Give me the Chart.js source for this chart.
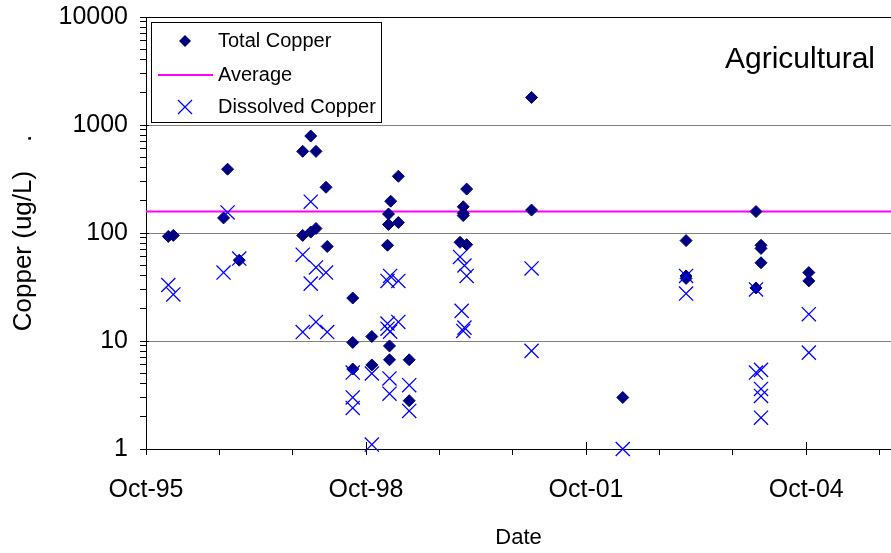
<!doctype html>
<html lang="en">
<head>
<meta charset="UTF-8" />
<title>Copper - Agricultural</title>
<style>
  body { margin: 0; background: #fff; }
  canvas { display: block; }
</style>
</head>
<body>
<canvas id="chart" width="891" height="553"></canvas>
<script src="https://cdn.jsdelivr.net/npm/chart.js@4/dist/chart.umd.min.js"></script>
<script>
// sample dates + copper results (ug/L)
const totalDates = [
  '1996-01-20', '1996-02-14', '1996-10-21', '1996-11-10', '1997-01-08',
  '1997-11-20', '1997-12-30', '1998-01-25', '1998-03-16',
  '1997-11-20', '1997-12-30', '1998-01-25', '1998-03-22',
  '1998-07-27', '1998-07-27', '1998-07-27', '1998-10-30', '1998-10-30',
  '1999-02-01', '1999-01-21', '1999-01-21', '1999-03-11', '1999-03-11',
  '1999-01-16', '1999-01-26', '1999-01-26', '1999-05-04', '1999-05-04',
  '2000-02-14', '2000-01-28', '2000-01-28', '2000-01-28', '2000-01-12', '2000-02-14',
  '2001-01-03', '2001-01-03', '2002-04-02',
  '2003-02-11', '2003-02-11', '2003-02-11',
  '2004-01-25', '2004-02-19', '2004-02-19', '2004-02-19', '2004-01-25',
  '2004-10-14', '2004-10-14'
];
const totalValues = [
  93, 95, 138, 390, 56,
  570, 790, 570, 265,
  95, 102, 110, 75,
  25, 9.7, 5.5, 11, 6.0,
  197, 150, 120, 125, 335,
  77, 9.0, 6.7, 6.7, 2.8,
  255, 175, 152, 145, 82, 78,
  1800, 163, 3.0,
  85, 40, 38,
  158, 77, 72, 53, 31,
  43, 36
];

const dissolvedDates = [
  '1996-01-20', '1996-02-14', '1996-10-21', '1996-11-10', '1997-01-08',
  '1997-12-30', '1997-11-20', '1998-01-25', '1998-03-16', '1997-12-30',
  '1997-11-20', '1998-01-25', '1998-03-22',
  '1998-07-27', '1998-07-27', '1998-07-27', '1998-10-30', '1998-10-30',
  '1999-01-29', '1999-01-16', '1999-03-11', '1999-01-16', '1999-03-11',
  '1999-01-29', '1999-01-16', '1999-01-26', '1999-01-26', '1999-05-04', '1999-05-04',
  '2000-01-12', '2000-02-03', '2000-02-14', '2000-01-20', '2000-02-03', '2000-01-28',
  '2001-01-03', '2001-01-03', '2002-04-02',
  '2003-02-11', '2003-02-11',
  '2004-01-25', '2004-01-25', '2004-02-19', '2004-02-19', '2004-02-19', '2004-02-19',
  '2004-10-14', '2004-10-14'
];
const dissolvedValues = [
  33, 27, 43, 155, 58,
  195, 63, 48, 43, 34,
  12.1, 15, 12.1,
  5.1, 3.0, 2.4, 5.0, 1.1,
  40, 36, 36, 14.5, 15,
  12.2, 13, 4.5, 3.25, 3.9, 2.25,
  60, 50, 40, 19, 13.3, 12.4,
  47, 8.1, 1.0,
  40, 27.5,
  30, 5.1, 5.4, 3.6, 3.1, 1.95,
  17.7, 7.8
];

const averageValue = 158;

const xTickLabels = ['Oct-95', '', '', 'Oct-98', '', '', 'Oct-01', '', '', 'Oct-04', ''];
const yTickLabels = ['1', '10', '100', '1000', '10000'];
const siteName = 'Agricultural';

// date string -> decimal year, so a plain linear axis can be used
function toYear(s) {
  const d = new Date(s + 'T00:00:00Z');
  const start = Date.UTC(d.getUTCFullYear(), 0, 1);
  return d.getUTCFullYear() + (d - start) / (365 * 86400000);
}

const xTickValues = xTickLabels.map((_, i) => toYear((1995 + i) + '-10-01'));
const xMin = xTickValues[0];
const xMax = toYear('2005-11-28');

const yTickValues = [];
for (let k = 0; k < 4; k++) {
  for (let m = 1; m < 10; m++) yTickValues.push(m * Math.pow(10, k));
}
yTickValues.push(10000);

const FONT = "'Liberation Sans', Arial, sans-serif";
Chart.defaults.font.family = FONT;
Chart.defaults.color = '#000';

// labelled x ticks cross the axis line (Excel style)
const crossTicksPlugin = {
  id: 'crossTicks',
  afterDraw(chart) {
    const ctx = chart.ctx;
    const xs = chart.scales.x;
    const ys = chart.scales.y;
    ctx.save();
    ctx.strokeStyle = '#000';
    ctx.lineWidth = 1;
    ctx.beginPath();
    xTickValues.forEach((v, i) => {
      if (!xTickLabels[i]) return;
      const px = Math.round(xs.getPixelForValue(v)) + 0.5;
      ctx.moveTo(px, ys.bottom);
      ctx.lineTo(px, ys.bottom - 7);
    });
    yTickLabels.forEach((l) => {
      const py = Math.round(ys.getPixelForValue(Number(l))) + 0.5;
      ctx.moveTo(xs.left, py);
      ctx.lineTo(xs.left + 3, py);
    });
    ctx.stroke();
    ctx.restore();
  }
};

const legendPlugin = {
  id: 'boxLegend',
  afterDraw(chart) {
    const ctx = chart.ctx;
    ctx.save();
    // site label
    ctx.fillStyle = '#000';
    ctx.font = '30px ' + FONT;
    ctx.textAlign = 'right';
    ctx.textBaseline = 'alphabetic';
    ctx.fillText(siteName, 875, 68);

    // legend box
    ctx.fillStyle = '#fff';
    ctx.fillRect(151, 22, 231, 101);
    ctx.strokeStyle = '#000';
    ctx.lineWidth = 1;
    ctx.strokeRect(151.5, 22.5, 230, 100);

    // diamond
    ctx.fillStyle = '#000080';
    ctx.beginPath();
    ctx.moveTo(185, 35); ctx.lineTo(191, 41); ctx.lineTo(185, 47); ctx.lineTo(179, 41);
    ctx.closePath();
    ctx.fill();
    // average line
    ctx.strokeStyle = '#FF00FF';
    ctx.lineWidth = 2;
    ctx.beginPath();
    ctx.moveTo(158, 75); ctx.lineTo(213, 75);
    ctx.stroke();
    // cross
    ctx.strokeStyle = '#0000FF';
    ctx.lineWidth = 1.3;
    ctx.beginPath();
    ctx.moveTo(178, 100); ctx.lineTo(192, 114);
    ctx.moveTo(192, 100); ctx.lineTo(178, 114);
    ctx.stroke();

    ctx.fillStyle = '#000';
    ctx.font = '20px ' + FONT;
    ctx.textAlign = 'left';
    ctx.textBaseline = 'middle';
    ctx.fillText('Total Copper', 218, 41);
    ctx.fillText('Average', 218, 75);
    ctx.fillText('Dissolved Copper', 218, 107);
    ctx.restore();
  }
};

const ctx = document.getElementById('chart').getContext('2d');
new Chart(ctx, {
  type: 'scatter',
  data: {
    datasets: [
      {
        label: 'Dissolved Copper',
        data: dissolvedDates.map((d, i) => ({ x: toYear(d), y: dissolvedValues[i] })),
        pointStyle: 'crossRot',
        pointRadius: 10,
        borderColor: '#0000FF',
        backgroundColor: '#0000FF',
        borderWidth: 1.3,
        clip: false,
        order: 0
      },
      {
        label: 'Total Copper',
        data: totalDates.map((d, i) => ({ x: toYear(d), y: totalValues[i] })),
        pointStyle: 'rectRot',
        pointRadius: 6,
        borderColor: '#000080',
        backgroundColor: '#000080',
        borderWidth: 1,
        clip: false,
        order: 1
      },
      {
        type: 'line',
        label: 'Average',
        data: [{ x: xMin, y: averageValue }, { x: xMax, y: averageValue }],
        borderColor: '#FF00FF',
        borderWidth: 2,
        pointRadius: 0,
        showLine: true,
        fill: false,
        order: 2
      }
    ]
  },
  options: {
    responsive: false,
    animation: false,
    devicePixelRatio: 1,
    layout: { autoPadding: false, padding: { top: 17, right: 0, left: 0, bottom: 0 } },
    plugins: {
      legend: { display: false },
      tooltip: { enabled: false }
    },
    scales: {
      x: {
        type: 'linear',
        min: xMin,
        max: xMax,
        afterBuildTicks: (s) => { s.ticks = xTickValues.map(v => ({ value: v })); },
        afterFit: (s) => {
          s.height = 104;
          s.paddingLeft = 0;
          s.paddingRight = 0;
        },
        ticks: {
          autoSkip: false,
          maxRotation: 0,
          padding: 20,
          color: '#000',
          font: { size: 25 },
          callback: (v, i) => xTickLabels[i]
        },
        grid: { drawOnChartArea: false, color: '#000', tickLength: 6 },
        border: { color: '#000', width: 1 },
        title: { display: true, text: 'Date', color: '#000', font: { size: 22 }, padding: { top: 0, bottom: 2 } }
      },
      y: {
        type: 'logarithmic',
        min: 1,
        max: 10000,
        afterBuildTicks: (s) => { s.ticks = yTickValues.map(v => ({ value: v })); },
        afterFit: (s) => {
          s.width = 146;
          s.paddingTop = 0;
          s.paddingBottom = 0;
        },
        ticks: {
          autoSkip: false,
          padding: 12,
          color: '#000',
          font: { size: 25 },
          callback: (v) => yTickLabels.find(l => Number(l) === v) || ''
        },
        grid: {
          color: (c) => {
            const v = c.tick ? c.tick.value : 0;
            if (v === 10000) return '#000';
            if (v === 10 || v === 100 || v === 1000) return '#808080';
            return 'rgba(0,0,0,0)';
          },
          tickColor: '#000',
          tickLength: 6
        },
        border: { color: '#000', width: 1 },
        title: {
          display: true,
          text: 'Copper (ug/L)\u00a0\u00a0\u00a0\u00a0.',
          color: '#000',
          font: { size: 26 },
          padding: { top: 8, bottom: 0 }
        }
      }
    }
  },
  plugins: [crossTicksPlugin, legendPlugin]
});
</script>
</body>
</html>
